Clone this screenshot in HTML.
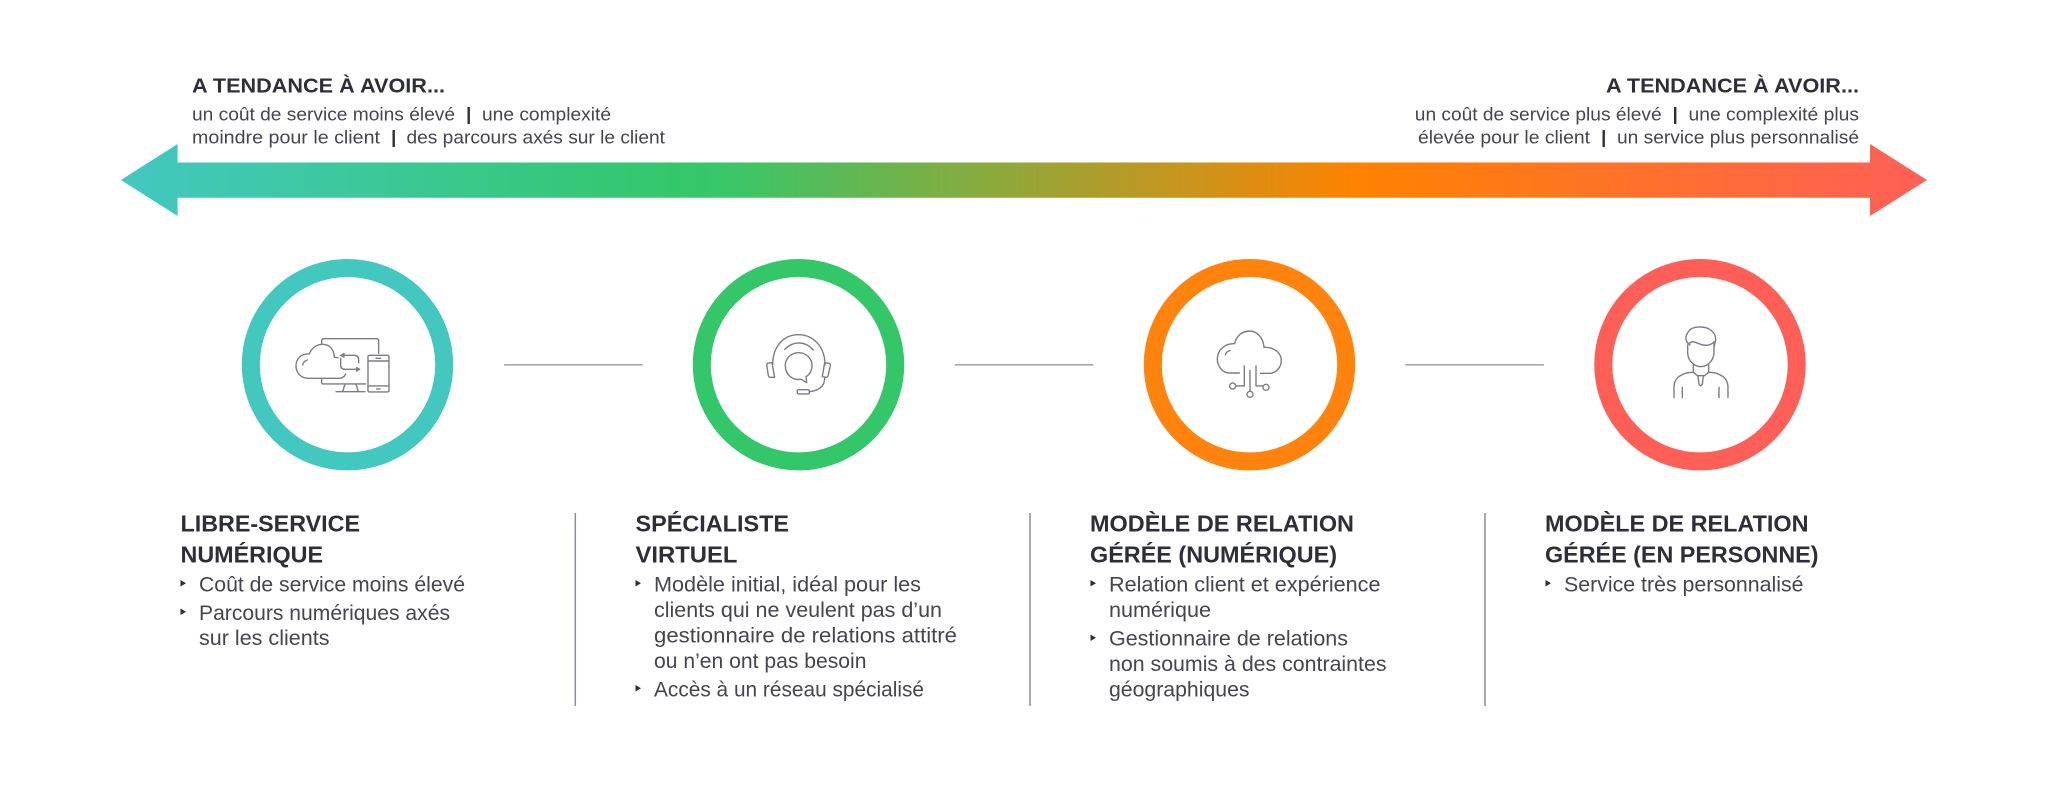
<!DOCTYPE html>
<html lang="fr">
<head>
<meta charset="utf-8">
<title>Modèles de service</title>
<style>
html,body{margin:0;padding:0;background:#fff;width:2048px;height:800px;overflow:hidden}
svg{display:block}
text{font-family:"Liberation Sans",Arial,sans-serif;fill:#34343f}
.h{font-weight:700;font-size:23px;fill:#2e2e38}
.t{font-weight:700;font-size:20.5px;fill:#2e2e38}
.s{font-size:18.5px;fill:#45454f}
.b{font-size:21px;fill:#45454f}
.i{fill:none;stroke:#7c7c88;stroke-width:4.2;stroke-linecap:round;stroke-linejoin:round}
</style>
</head>
<body>
<svg width="2048" height="800" viewBox="0 0 2048 800" xmlns="http://www.w3.org/2000/svg">
<defs>
<linearGradient id="g" gradientUnits="userSpaceOnUse" x1="121" y1="0" x2="1927" y2="0">
<stop offset="0" stop-color="#43c8c0"/>
<stop offset="0.305" stop-color="#34c76a"/>
<stop offset="0.335" stop-color="#38c668"/>
<stop offset="0.685" stop-color="#ff8200"/>
<stop offset="1" stop-color="#ff5f57"/>
</linearGradient>
</defs>

<!-- Arrow -->
<polygon fill="url(#g)" points="121,180 177.6,144 177.6,162.5 1870,162.5 1870,144 1927,180 1870,216 1870,197.7 177.6,197.7 177.6,216"/>

<!-- Top left -->
<text class="t" x="192" y="92.5" textLength="253" lengthAdjust="spacingAndGlyphs">A TENDANCE À AVOIR...</text>
<text class="s" x="192" y="120.5" textLength="263" lengthAdjust="spacingAndGlyphs">un coût de service moins élevé</text>
<rect x="467.5" y="107" width="2.4" height="17" fill="#2e2e38"/>
<text class="s" x="482" y="120.5" textLength="129" lengthAdjust="spacingAndGlyphs">une complexité</text>
<text class="s" x="192" y="143.5" textLength="188" lengthAdjust="spacingAndGlyphs">moindre pour le client</text>
<rect x="392.5" y="130" width="2.4" height="17" fill="#2e2e38"/>
<text class="s" x="406.5" y="143.5" textLength="258.5" lengthAdjust="spacingAndGlyphs">des parcours axés sur le client</text>

<!-- Top right -->
<text class="t" x="1606" y="92.5" textLength="253" lengthAdjust="spacingAndGlyphs">A TENDANCE À AVOIR...</text>
<text class="s" x="1414.8" y="120.5" textLength="246.8" lengthAdjust="spacingAndGlyphs">un coût de service plus élevé</text>
<rect x="1674" y="107" width="2.4" height="17" fill="#2e2e38"/>
<text class="s" x="1688.5" y="120.5" textLength="170.5" lengthAdjust="spacingAndGlyphs">une complexité plus</text>
<text class="s" x="1418" y="143.5" textLength="172" lengthAdjust="spacingAndGlyphs">élevée pour le client</text>
<rect x="1602.5" y="130" width="2.4" height="17" fill="#2e2e38"/>
<text class="s" x="1617" y="143.5" textLength="242" lengthAdjust="spacingAndGlyphs">un service plus personnalisé</text>

<!-- Circles -->
<circle cx="347.5" cy="364.7" r="96.7" fill="#fff" stroke="#43c8c0" stroke-width="18"/>
<circle cx="798.5" cy="364.7" r="96.7" fill="#fff" stroke="#34c76a" stroke-width="18"/>
<circle cx="1249.5" cy="364.7" r="96.7" fill="#fff" stroke="#ff830d" stroke-width="18"/>
<circle cx="1700" cy="364.7" r="96.7" fill="#fff" stroke="#ff5f57" stroke-width="18"/>

<!-- Connectors -->
<g stroke="#a8a8b2" stroke-width="1.6">
<line x1="504" y1="364.8" x2="642.8" y2="364.8"/>
<line x1="954.7" y1="364.8" x2="1093.4" y2="364.8"/>
<line x1="1405.4" y1="364.8" x2="1544" y2="364.8"/>
</g>

<!-- Icon 1 -->
<g transform="translate(230,250) scale(0.3333)" class="i">
<path d="M275 282V272Q275 266 281 266H440Q446 266 446 272V310"/>
<path d="M275 388V397Q275 402 280 402H407"/>
<path d="M345 402L338 425M378 402L385 425M318 425H405"/>
<path d="M347 372Q342 385 325 385H235C210 385 198 365 198 348C198 325 215 310 238 312C245 292 262 283 278 283C298 283 312 298 313 322L324 323"/>
<path d="M218 345C220 338 225 332 232 330"/>
<path d="M340 316H372Q386 316 386 330V338"/>
<path d="M332 316L342 311V321Z"/>
<path d="M332 325V345Q332 358 346 358H385"/>
<path d="M389 358L380 353V363Z"/>
<rect x="414" y="316" width="63" height="110" rx="4"/>
<path d="M414 333H477M414 408H477M438 325H452M440 417H450"/>
</g>

<!-- Icon 2 -->
<g transform="translate(680,250) scale(0.3333)" class="i">
<path d="M278 345C278 290 310 254 355 254C400 254 435 290 435 345"/>
<path d="M314 298C340 272 375 272 400 300"/>
<path d="M380 398L364 388C335 392 316 372 316 347C316 325 333 308 356 308C378 308 396 325 396 347C396 362 388 375 378 380Z"/>
<path d="M262 340L276 338L284 382L270 382Q266 382 265 376L260 345Z"/>
<path d="M434 338L448 340Q452 342 451 348L444 378Q443 382 438 382L427 380Z"/>
<path d="M434 382C435 410 415 422 388 425"/>
<rect x="352" y="419" width="36" height="13" rx="4"/>
</g>

<!-- Icon 3 -->
<g transform="translate(1130,250) scale(0.3333)" class="i">
<path d="M328 369H298C275 369 262 345 262 328C262 302 282 280 314 281C318 258 338 243 358 243C380 243 400 262 402 292C430 290 454 308 454 332C454 352 438 370 418 370H392"/>
<path d="M286 314C288 308 292 303 300 302"/>
<path d="M343 348V408H318M360 362V424M378 348V408H398"/>
<circle cx="308" cy="408" r="9"/>
<circle cx="360" cy="433" r="9"/>
<circle cx="408" cy="412" r="9"/>
</g>

<!-- Icon 4 -->
<g transform="translate(1580,250) scale(0.3333)" class="i">
<path d="M330 285C318 278 314 262 322 250C330 235 345 230 362 231C385 231 408 245 407 270C406 280 403 285 402 290"/>
<path d="M328 280C340 270 345 278 365 284C380 288 395 285 402 275"/>
<path d="M323 285V310C325 335 345 350 362 350C380 350 400 335 402 310V280"/>
<path d="M340 345V367M386 345V367"/>
<path d="M282 443V410C282 385 305 367 340 367L352 377H374L386 367C420 367 444 385 444 410V443"/>
<path d="M354 377L357 403L362 408L367 403L370 377"/>
<path d="M307 412V443M417 412V443"/>
</g>

<!-- Dividers -->
<g stroke="#8c8c96" stroke-width="1.5">
<line x1="575.3" y1="513" x2="575.3" y2="706"/>
<line x1="1030" y1="513" x2="1030" y2="706"/>
<line x1="1485" y1="513" x2="1485" y2="706"/>
</g>

<!-- Column 1 -->
<text class="h" x="180.5" y="531.7" textLength="179.5" lengthAdjust="spacingAndGlyphs">LIBRE-SERVICE</text>
<text class="h" x="180.5" y="562.7" textLength="142.5" lengthAdjust="spacingAndGlyphs">NUMÉRIQUE</text>
<polygon points="180.5,580 186,583.3 180.5,586.5" fill="#2e2e38"/>
<text class="b" x="199" y="591.7" textLength="266" lengthAdjust="spacingAndGlyphs">Coût de service moins élevé</text>
<polygon points="180.5,608.5 186,611.8 180.5,615" fill="#2e2e38"/>
<text class="b" x="199" y="620" textLength="251" lengthAdjust="spacingAndGlyphs">Parcours numériques axés</text>
<text class="b" x="199" y="645" textLength="130.5" lengthAdjust="spacingAndGlyphs">sur les clients</text>

<!-- Column 2 -->
<text class="h" x="635.5" y="531.7" textLength="153.5" lengthAdjust="spacingAndGlyphs">SPÉCIALISTE</text>
<text class="h" x="635.5" y="562.7" textLength="102" lengthAdjust="spacingAndGlyphs">VIRTUEL</text>
<polygon points="635.5,580 641,583.3 635.5,586.5" fill="#2e2e38"/>
<text class="b" x="654" y="591.7" textLength="267" lengthAdjust="spacingAndGlyphs">Modèle initial, idéal pour les</text>
<text class="b" x="654" y="617" textLength="288" lengthAdjust="spacingAndGlyphs">clients qui ne veulent pas d’un</text>
<text class="b" x="654" y="642.7" textLength="303" lengthAdjust="spacingAndGlyphs">gestionnaire de relations attitré</text>
<text class="b" x="654" y="668" textLength="212.5" lengthAdjust="spacingAndGlyphs">ou n’en ont pas besoin</text>
<polygon points="635.5,685 641,688.3 635.5,691.5" fill="#2e2e38"/>
<text class="b" x="654" y="696.7" textLength="270" lengthAdjust="spacingAndGlyphs">Accès à un réseau spécialisé</text>

<!-- Column 3 -->
<text class="h" x="1090" y="531.7" textLength="264" lengthAdjust="spacingAndGlyphs">MODÈLE DE RELATION</text>
<text class="h" x="1090" y="562.7" textLength="247" lengthAdjust="spacingAndGlyphs">GÉRÉE (NUMÉRIQUE)</text>
<polygon points="1090.5,580 1096,583.3 1090.5,586.5" fill="#2e2e38"/>
<text class="b" x="1109" y="591.7" textLength="271.5" lengthAdjust="spacingAndGlyphs">Relation client et expérience</text>
<text class="b" x="1109" y="617" textLength="102" lengthAdjust="spacingAndGlyphs">numérique</text>
<polygon points="1090.5,634.5 1096,637.8 1090.5,641" fill="#2e2e38"/>
<text class="b" x="1109" y="645.7" textLength="239" lengthAdjust="spacingAndGlyphs">Gestionnaire de relations</text>
<text class="b" x="1109" y="671" textLength="277.5" lengthAdjust="spacingAndGlyphs">non soumis à des contraintes</text>
<text class="b" x="1109" y="696.7" textLength="140.5" lengthAdjust="spacingAndGlyphs">géographiques</text>

<!-- Column 4 -->
<text class="h" x="1545" y="531.7" textLength="263.5" lengthAdjust="spacingAndGlyphs">MODÈLE DE RELATION</text>
<text class="h" x="1545" y="562.7" textLength="273.5" lengthAdjust="spacingAndGlyphs">GÉRÉE (EN PERSONNE)</text>
<polygon points="1545.5,580 1551,583.3 1545.5,586.5" fill="#2e2e38"/>
<text class="b" x="1564" y="591.7" textLength="239.5" lengthAdjust="spacingAndGlyphs">Service très personnalisé</text>
</svg>
</body>
</html>
